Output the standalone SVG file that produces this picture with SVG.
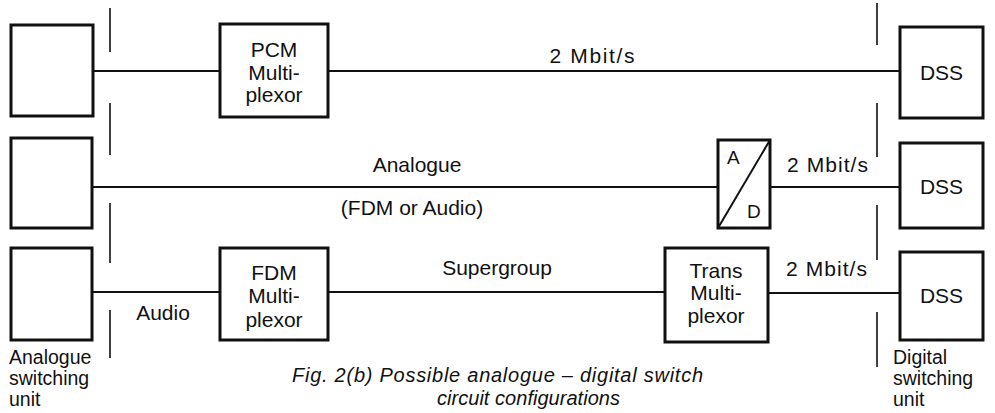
<svg xmlns="http://www.w3.org/2000/svg" width="995" height="413" viewBox="0 0 995 413">
<style>
.box{fill:none;stroke:#111;stroke-width:3}
.ln{fill:none;stroke:#111;stroke-width:2}
.div{fill:none;stroke:#111;stroke-width:1.6}
text{font-family:"Liberation Sans",Arial,sans-serif;font-size:21px;fill:#111}
.c{text-anchor:middle}
.lab{font-size:19.5px}
.cap{font-style:italic;font-size:20px}
</style>
<rect width="995" height="413" fill="#fff"/>
<g id="connectors">
<line class="ln" x1="93" y1="71" x2="220" y2="71"/>
<line class="ln" x1="328" y1="71" x2="900" y2="71"/>
<line class="ln" x1="92" y1="187" x2="718" y2="187"/>
<line class="ln" x1="770" y1="187" x2="900" y2="187"/>
<line class="ln" x1="92" y1="292" x2="220" y2="292"/>
<line class="ln" x1="328" y1="292" x2="665" y2="292"/>
<line class="ln" x1="768" y1="293" x2="900" y2="293"/>
<text class="c" x="592" y="63" textLength="85" lengthAdjust="spacing">2 Mbit/s</text>
<text class="c" x="417" y="172">Analogue</text>
<text class="c" x="412" y="215">(FDM or Audio)</text>
<text x="787" y="172" textLength="81" lengthAdjust="spacing">2 Mbit/s</text>
<text class="c" x="163" y="320">Audio</text>
<text class="c" x="497" y="275">Supergroup</text>
<text x="786" y="276" textLength="81" lengthAdjust="spacing">2 Mbit/s</text>
</g>
<g id="boundaries">
<path class="div" d="M110 8V52M110 103V155M110 203V263M110 310V358"/>
<path class="div" d="M877 3V45M877 103V157M877 205V260M877 312V367"/>
</g>
<g id="asu1"><rect class="box" x="11" y="25" width="82" height="91"/></g>
<g id="asu2"><rect class="box" x="11" y="138" width="81" height="90"/></g>
<g id="asu3"><rect class="box" x="11" y="248" width="81" height="92"/></g>
<g id="pcm">
<rect class="box" x="220" y="24" width="108" height="93"/>
<text class="c" x="274" y="57">PCM</text>
<text class="c" x="274" y="80">Multi-</text>
<text class="c" x="274" y="102">plexor</text>
</g>
<g id="ad">
<rect class="box" x="718" y="140" width="52" height="88"/>
<line class="ln" x1="718" y1="228" x2="770" y2="140"/>
<text x="727" y="164" style="font-size:19px">A</text>
<text x="747" y="218" style="font-size:19px">D</text>
</g>
<g id="fdm">
<rect class="box" x="220" y="248" width="108" height="92"/>
<text class="c" x="274" y="280">FDM</text>
<text class="c" x="274" y="303">Multi-</text>
<text class="c" x="274" y="327">plexor</text>
</g>
<g id="trans">
<rect class="box" x="665" y="248" width="103" height="94"/>
<text class="c" x="716" y="278">Trans</text>
<text class="c" x="716" y="300">Multi-</text>
<text class="c" x="716" y="323">plexor</text>
</g>
<g id="dss1"><rect class="box" x="900" y="27" width="83" height="91"/><text class="c" x="941.5" y="80">DSS</text></g>
<g id="dss2"><rect class="box" x="900" y="143" width="83" height="85"/><text class="c" x="941.5" y="194">DSS</text></g>
<g id="dss3"><rect class="box" x="900" y="252" width="83" height="88"/><text class="c" x="941.5" y="303">DSS</text></g>
<g id="labels">
<text class="lab" x="9" y="364">Analogue</text>
<text class="lab" x="9" y="385">switching</text>
<text class="lab" x="9" y="406">unit</text>
<text class="lab" x="893" y="364">Digital</text>
<text class="lab" x="893" y="385">switching</text>
<text class="lab" x="893" y="406">unit</text>
<text class="cap" x="292" y="382" textLength="411" lengthAdjust="spacing">Fig. 2(b) Possible analogue – digital switch</text>
<text class="cap" x="437" y="405" textLength="183" lengthAdjust="spacing">circuit configurations</text>
</g>
</svg>
